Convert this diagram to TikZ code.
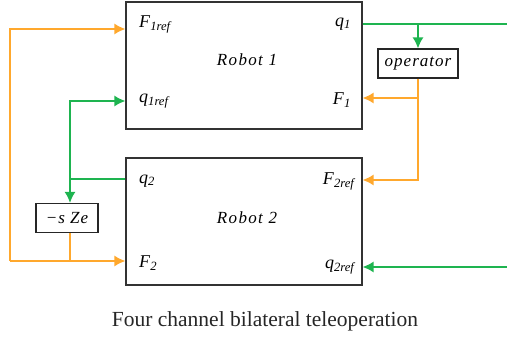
\documentclass[tikz,border=0pt]{standalone}
\usepackage{fontspec}
\setmainfont{Liberation Serif}
\usetikzlibrary{arrows.meta}
\definecolor{myorange}{RGB}{255,168,45}
\definecolor{mygreen}{RGB}{30,180,80}
\newcommand\mysig[2]{%
  \textit{#1}\textsubscript{\textit{#2}}%
}

\begin{document}
\begin{tikzpicture}[x=1pt,y=-1pt,>={Latex[length=11pt,width=11pt]}]
  \useasboundingbox (0,0) rectangle (507,339);

  \tikzstyle{robot}=[draw=black!80,line width=1.2pt,minimum width=236pt,minimum height=127pt,inner sep=0pt]
  \tikzstyle{block}=[draw=black!85,line width=1.2pt,minimum height=29pt,inner sep=0pt,font=\fontsize{17}{20}\selectfont\itshape\addfontfeature{LetterSpace=6}]
  \tikzstyle{title}=[inner sep=0pt,font=\fontsize{17}{20}\selectfont\itshape\addfontfeature{LetterSpace=8}]
  \tikzstyle{sig}=[inner sep=0pt,font=\fontsize{18}{20}\selectfont]
  \tikzstyle{oline}=[myorange,line width=1.5pt]
  \tikzstyle{gline}=[mygreen,line width=1.5pt]

  % the two robots
  \node[robot] (robot1) at (244,65.5) {};
  \node[robot] (robot2) at (244,221.5) {};
  \node[title] (name1) at (247,60) {Robot 1};
  \node[title] (name2) at (247,218) {Robot 2};

  % signals at the box edges
  \foreach \name/\x/\y/\main/\sub in {lf1ref/139/24/F/1ref, lq1ref/139/101/q/1ref, lq2/139/181/q/2, lf2/139/263/F/2}
    \node[sig,anchor=west] (\name) at (\x,\y) {\mysig{\main}{\sub}};
  \foreach \name/\x/\y/\main/\sub in {lq1/351/24/q/1, lf1/351/100/F/1, lf2ref/356/181/F/2ref, lq2ref/356/267/q/2ref}
    \node[sig,anchor=east] (\name) at (\x,\y) {\mysig{\main}{\sub}};

  \node[block,minimum width=80pt] (operator) at (418,63.5) {operator};
  \node[block,minimum width=62pt] (sze) at (67,218) {\textit{−s Ze}};

  \coordinate (q1end) at (507,24);
  \coordinate (q2end) at (507,267);
  \coordinate (gjoin) at (70,179);
  \coordinate (ojoin) at (70,261);
  \coordinate (oloop) at (10,261);

  % green: positions
  \draw[gline] (robot1.east |- q1end) -- (q1end);
  \draw[gline,->] (operator.north |- q1end) -- (operator.north);
  \draw[gline,->] (q2end) -- (robot2.east |- q2end);
  \draw[gline] (robot2.west |- gjoin) -- (gjoin);
  \draw[gline,->] (gjoin) |- (robot1.west |- 0,101);
  \draw[gline,->] (gjoin) -- (gjoin |- sze.north);

  % orange: forces
  \draw[oline,->] (operator.south) |- (robot2.east |- 0,180);
  \draw[oline,->] (operator.south |- 0,98) -- (robot1.east |- 0,98);
  \draw[oline] (ojoin |- sze.south) -- (ojoin);
  \draw[oline,->] (oloop) -- (robot2.west |- oloop);
  \draw[oline,->] (oloop) |- (robot1.west |- 0,29);

  \node[inner sep=0pt,font=\fontsize{21.5}{24}\selectfont,text=black!85] (caption) at (265,321) {Four channel bilateral teleoperation};
\end{tikzpicture}
\end{document}
